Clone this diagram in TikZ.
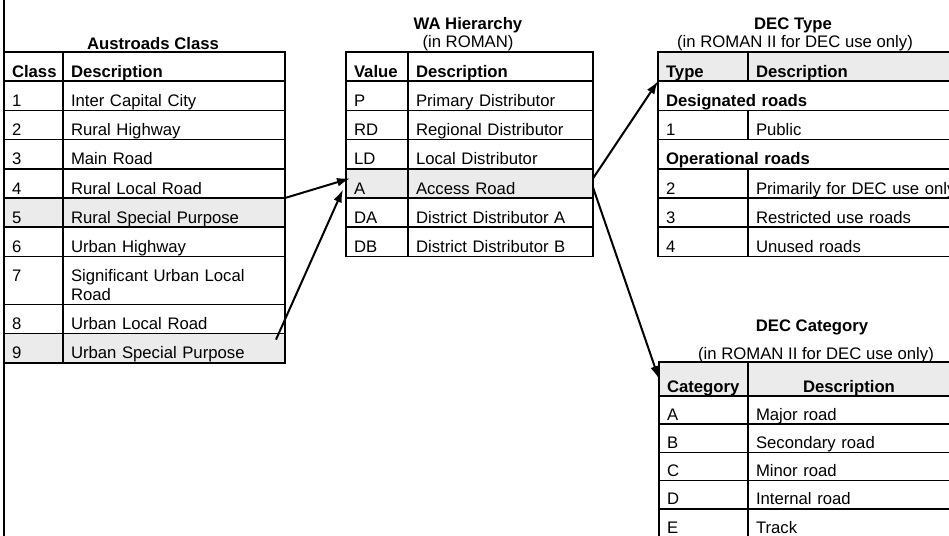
\documentclass[tikz,border=0pt]{standalone}
\usepackage{fontspec}
\setmainfont{Liberation Sans}
\usepackage{tikz}
\usetikzlibrary{arrows.meta,positioning}

\begin{document}
\begin{tikzpicture}[x=0.5pt, y=-0.5pt,
                    every node/.style={font=\fontsize{8.35}{9.5}\selectfont},
                    hd/.style={font=\fontsize{8.35}{9.5}\selectfont\bfseries},
                    title/.style={anchor=base, inner sep=0pt},
                    cell/.style={draw, line width=0.8pt, outer sep=0pt, inner xsep=4pt, inner ysep=0pt,
                                 text height=12.6pt, text depth=2pt, align=left},
                    shaded/.style={fill=black!8},
                    ausc/.style={cell, text width=21.5pt},
                    ausd/.style={cell, text width=103pt},
                    wac/.style={cell, text width=23pt},
                    wad/.style={cell, text width=84.5pt},
                    dtc/.style={cell, text width=37pt},
                    dtd/.style={cell, text width=107pt},
                    dtw/.style={cell, text width=152pt},
                    dcc/.style={cell, text width=36.5pt, text height=12.1pt},
                    dcd/.style={cell, text width=93pt, text height=12.1pt},
                    link/.style={line width=1pt, -{Latex[length=6.5pt,width=4.4pt]}}]

    \useasboundingbox (0,0) rectangle (949,536);
    \clip (0,0) rectangle (949,536);
    \draw[line width=1.4pt] (4,0) -- (4,536);

    \node[title, hd] at (153,49) {Austroads Class};
    \node[ausc, hd, anchor=north west] (aus0c) at (4,52) {Class};
    \node[ausd, hd, right=0pt of aus0c] (aus0d) {Description};
    \node[ausc, below=0pt of aus0c] (aus1c) {1};
    \node[ausd, right=0pt of aus1c] (aus1d) {Inter Capital City};
    \node[ausc, below=0pt of aus1c] (aus2c) {2};
    \node[ausd, right=0pt of aus2c] (aus2d) {Rural Highway};
    \node[ausc, below=0pt of aus2c] (aus3c) {3};
    \node[ausd, right=0pt of aus3c] (aus3d) {Main Road};
    \node[ausc, below=0pt of aus3c] (aus4c) {4};
    \node[ausd, right=0pt of aus4c] (aus4d) {Rural Local Road};
    \node[ausc, shaded, below=0pt of aus4c] (aus5c) {5};
    \node[ausd, shaded, right=0pt of aus5c] (aus5d) {Rural Special Purpose};
    \node[ausc, below=0pt of aus5c] (aus6c) {6};
    \node[ausd, right=0pt of aus6c] (aus6d) {Urban Highway};
    \node[ausc, text depth=11.4pt, below=0pt of aus6c] (aus7c) {7};
    \node[ausd, text depth=11.4pt, right=0pt of aus7c] (aus7d) {Significant Urban Local\\Road};
    \node[ausc, below=0pt of aus7c] (aus8c) {8};
    \node[ausd, right=0pt of aus8c] (aus8d) {Urban Local Road};
    \node[ausc, shaded, below=0pt of aus8c] (aus9c) {9};
    \node[ausd, shaded, right=0pt of aus9c] (aus9d) {Urban Special Purpose};

    \node[title, hd] at (468,29) {WA Hierarchy};
    \node[title] at (468,47) {(in ROMAN)};
    \node[wac, hd, anchor=north west] (wa0c) at (346,52) {Value};
    \node[wad, hd, right=0pt of wa0c] (wa0d) {Description};
    \node[wac, below=0pt of wa0c] (waPc) {P};
    \node[wad, right=0pt of waPc] (waPd) {Primary Distributor};
    \node[wac, below=0pt of waPc] (waRDc) {RD};
    \node[wad, right=0pt of waRDc] (waRDd) {Regional Distributor};
    \node[wac, below=0pt of waRDc] (waLDc) {LD};
    \node[wad, right=0pt of waLDc] (waLDd) {Local Distributor};
    \node[wac, shaded, below=0pt of waLDc] (waAc) {A};
    \node[wad, shaded, right=0pt of waAc] (waAd) {Access Road};
    \node[wac, below=0pt of waAc] (waDAc) {DA};
    \node[wad, right=0pt of waDAc] (waDAd) {District Distributor A};
    \node[wac, below=0pt of waDAc] (waDBc) {DB};
    \node[wad, right=0pt of waDBc] (waDBd) {District Distributor B};

    \node[title, hd] at (793,29) {DEC Type};
    \node[title] at (795,47) {(in ROMAN II for DEC use only)};
    \node[dtc, hd, shaded, anchor=north west] (dt0c) at (658,52) {Type};
    \node[dtd, hd, shaded, right=0pt of dt0c] (dt0d) {Description};
    \node[dtw, hd, anchor=north west] (dtDes) at (dt0c.south west) {Designated roads};
    \node[dtc, anchor=north west] (dt1c) at (dtDes.south west) {1};
    \node[dtd, right=0pt of dt1c] (dt1d) {Public};
    \node[dtw, hd, anchor=north west] (dtOp) at (dt1c.south west) {Operational roads};
    \node[dtc, anchor=north west] (dt2c) at (dtOp.south west) {2};
    \node[dtd, right=0pt of dt2c] (dt2d) {Primarily for DEC use only};
    \node[dtc, below=0pt of dt2c] (dt3c) {3};
    \node[dtd, right=0pt of dt3c] (dt3d) {Restricted use roads};
    \node[dtc, below=0pt of dt3c] (dt4c) {4};
    \node[dtd, right=0pt of dt4c] (dt4d) {Unused roads};

    \node[title, hd] at (812,331) {DEC Category};
    \node[title] at (816,359) {(in ROMAN II for DEC use only)};
    \node[dcc, hd, shaded, text height=15pt, anchor=north west] (dc0c) at (659,362) {Category};
    \node[dcd, hd, shaded, text height=15pt, align=center, right=0pt of dc0c] (dc0d) {Description};
    \node[dcc, below=0pt of dc0c] (dcAc) {A};
    \node[dcd, right=0pt of dcAc] (dcAd) {Major road};
    \node[dcc, below=0pt of dcAc] (dcBc) {B};
    \node[dcd, right=0pt of dcBc] (dcBd) {Secondary road};
    \node[dcc, below=0pt of dcBc] (dcCc) {C};
    \node[dcd, right=0pt of dcCc] (dcCd) {Minor road};
    \node[dcc, below=0pt of dcCc] (dcDc) {D};
    \node[dcd, right=0pt of dcDc] (dcDd) {Internal road};
    \node[dcc, below=0pt of dcDc] (dcEc) {E};
    \node[dcd, right=0pt of dcEc] (dcEd) {Track};

    \draw[link] (aus4d.south east) -- ([xshift=2pt, yshift=2.5pt]waAc.west);
    \draw[link] ([xshift=-4.5pt, yshift=-3pt]aus9d.north east) -- ([xshift=-1.5pt, yshift=-3pt]waAc.west);
    \draw[link] ([yshift=2.5pt]waAd.east) -- (dt0c.south west);
    \draw[link] ([yshift=-2pt]waAd.east) -- (dc0c.west);
\end{tikzpicture}
\end{document}
